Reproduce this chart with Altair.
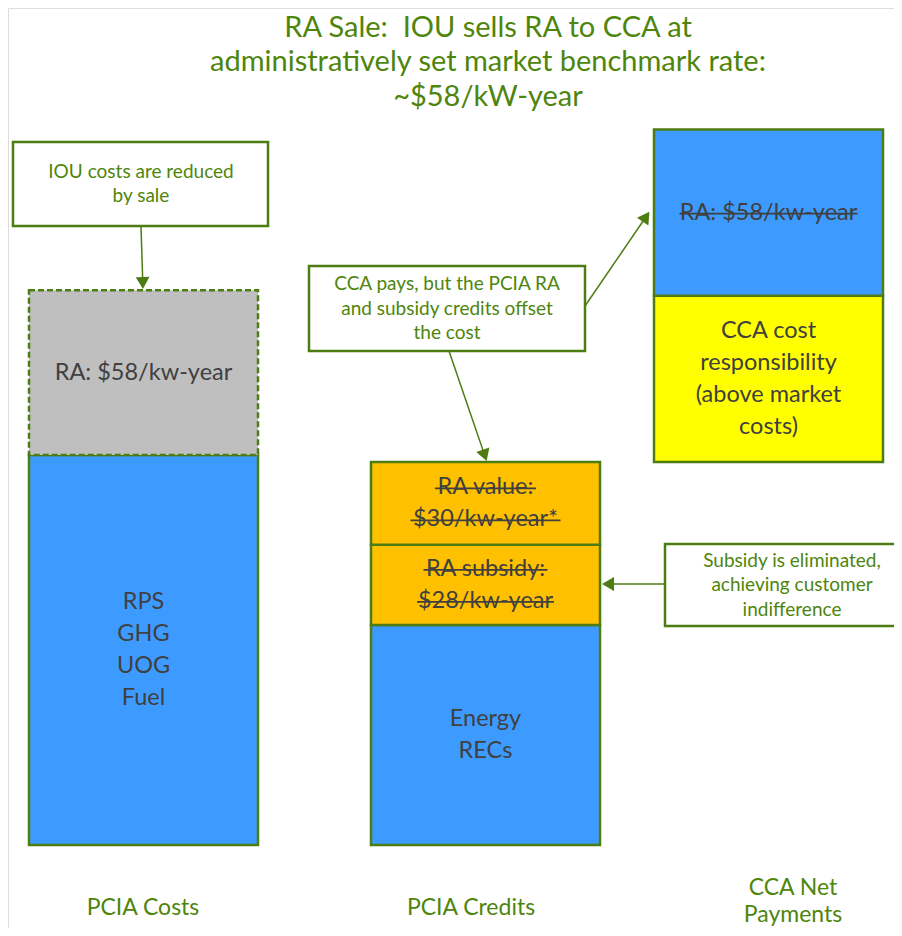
import math
import altair as alt
import pandas as pd

# ---------------- style ----------------
GREEN_TEXT = "#4E850C"
GREEN_LINE = "#4D7C12"
DARK_TEXT = "#404040"
FONT = "Lato"
BLUE = "#3D9BFF"
GRAY = "#BFBFBF"
ORANGE = "#FFC000"
YELLOW = "#FFFF00"

# ---------------- data ----------------
title_lines = ["RA Sale:\u00a0 IOU sells RA to CCA at",
               "administratively set market benchmark rate:",
               "~$58/kW-year"]
title_y = [28, 62, 97]
title_x = 488

columns = ["PCIA Costs", "PCIA Credits", "CCA Net Payments"]
column_left = [29, 371, 654]
column_right = [258, 600, 883]
column_labels = ["PCIA Costs", "PCIA Credits", "CCA Net\nPayments"]
column_label_x = [143, 471, 793]
column_label_y = [908, 908, 901]

# stacked segments ($/kW-year), bottom to top per column
seg_column = ["PCIA Costs", "PCIA Costs",
              "PCIA Credits", "PCIA Credits", "PCIA Credits",
              "CCA Net Payments", "CCA Net Payments"]
seg_label = ["RPS\nGHG\nUOG\nFuel", "RA: $58/kw-year",
             "Energy\nRECs", "RA subsidy:\n$28/kw-year", "RA value:\n$30/kw-year*",
             "CCA cost\nresponsibility\n(above market\ncosts)", "RA: $58/kw-year"]
seg_value = [137.3, 58.0, 77.5, 28.2, 29.2, 58.5, 58.5]
seg_fill = [BLUE, GRAY, BLUE, ORANGE, ORANGE, YELLOW, BLUE]
seg_dashed = [False, True, False, False, False, False, False]
seg_strike = [False, False, False, True, True, False, True]
# half widths of the struck-through text lines (px)
strike_halfwidth = {"RA subsidy:": 62, "$28/kw-year": 68.5, "RA value:": 50.5,
                    "$30/kw-year*": 75, "RA: $58/kw-year": 89}
# the CCA column floats on top of the credits column (waterfall)
column_base_from = {"PCIA Costs": None, "PCIA Credits": None, "CCA Net Payments": "PCIA Credits"}

BASE_PX = 845
PX_PER_UNIT = 2.84
BAR_LINE_H = 32
LABEL_LINE_H = 27
CALLOUT_LINE_H = 24.5

callout_text = ["IOU costs are reduced\nby sale",
                "CCA pays, but the PCIA RA\nand subsidy credits offset\nthe cost",
                "Subsidy is eliminated,\nachieving customer\nindifference"]
callout_x1 = [13, 309, 665]
callout_x2 = [268, 585, 920]
callout_y1 = [142, 266, 544]
callout_y2 = [226, 351, 626]
callout_text_x = [141, 447, 792]

arrow_x1 = [141, 449, 585, 665]
arrow_y1 = [226, 351, 306, 584]
arrow_x2 = [143, 487, 650, 601]
arrow_y2 = [290, 462, 211, 584]
HEAD = 14


def first_line_y(text, yc, lh):
    n = len(text.split("\n"))
    return yc - (n - 1) / 2 * lh


# ---------------- build tables ----------------
totals = {}
rows = []
for c, lab, v, f, d, s in zip(seg_column, seg_label, seg_value, seg_fill, seg_dashed, seg_strike):
    if c not in totals:
        src = column_base_from[c]
        totals[c] = totals[src] if src else 0.0
    start = totals[c]
    end = start + v
    totals[c] = end
    i = columns.index(c)
    rows.append(dict(col=c, label=lab, fill=f, dashed=d, strike=s,
                     x1=column_left[i], x2=column_right[i],
                     ytop=BASE_PX - end * PX_PER_UNIT,
                     ybot=BASE_PX - start * PX_PER_UNIT,
                     xc=(column_left[i] + column_right[i]) / 2))
segs = pd.DataFrame(rows)
segs["yc"] = (segs["ytop"] + segs["ybot"]) / 2
segs["ty"] = [first_line_y(t, y, BAR_LINE_H) for t, y in zip(segs["label"], segs["yc"])]

strikes = []
for _, r in segs[segs["strike"]].iterrows():
    lines = r["label"].split("\n")
    for k, ln in enumerate(lines):
        y = r["ty"] + k * BAR_LINE_H + 1
        hw = strike_halfwidth[ln]
        strikes.append(dict(x1=r["xc"] - hw, x2=r["xc"] + hw, y=y))
strikes = pd.DataFrame(strikes)

titles = pd.DataFrame(dict(t=title_lines, x=title_x, y=title_y))
labels = pd.DataFrame(dict(t=column_labels, x=column_label_x, y=column_label_y))
labels["ty"] = [first_line_y(t, y, LABEL_LINE_H) for t, y in zip(labels["t"], labels["y"])]
callouts = pd.DataFrame(dict(t=callout_text, x1=callout_x1, x2=callout_x2,
                             y1=callout_y1, y2=callout_y2, tx=callout_text_x))
callouts["yc"] = (callouts["y1"] + callouts["y2"]) / 2
callouts["ty"] = [first_line_y(t, y, CALLOUT_LINE_H) for t, y in zip(callouts["t"], callouts["yc"])]

arr = []
for ax1, ay1, ax2, ay2 in zip(arrow_x1, arrow_y1, arrow_x2, arrow_y2):
    dx, dy = ax2 - ax1, ay2 - ay1
    L = math.hypot(dx, dy)
    ux, uy = dx / L, dy / L
    hx, hy = ax2 - ux * HEAD / 2, ay2 - uy * HEAD / 2
    ang = math.degrees(math.atan2(dx, -dy)) % 360
    arr.append(dict(x1=ax1, y1=ay1, x2=hx, y2=hy, hx=hx, hy=hy, ang=ang))
arrows = pd.DataFrame(arr)

# ---------------- chart ----------------
XS = alt.Scale(domain=[8, 894], nice=False, zero=False)
YS = alt.Scale(domain=[8, 928], nice=False, zero=False, reverse=True)


def X(f):
    return alt.X(f, type="quantitative", scale=XS, axis=None)


def Y(f):
    return alt.Y(f, type="quantitative", scale=YS, axis=None)


solid = alt.Chart(segs[~segs["dashed"]]).mark_rect(stroke=GREEN_LINE, strokeWidth=2.5).encode(
    x=X("x1"), x2="x2", y=Y("ytop"), y2="ybot", fill=alt.Fill("fill:N", scale=None))
dashed = alt.Chart(segs[segs["dashed"]]).mark_rect(stroke=GREEN_LINE, strokeWidth=2.5,
                                                   strokeDash=[6, 3]).encode(
    x=X("x1"), x2="x2", y=Y("ytop"), y2="ybot", fill=alt.Fill("fill:N", scale=None))
seg_text = alt.Chart(segs).mark_text(font=FONT, fontSize=23.5, color=DARK_TEXT, lineBreak="\n",
                                     lineHeight=BAR_LINE_H, baseline="middle", align="center").encode(
    x=X("xc"), y=Y("ty"), text="label:N")
strike_rules = alt.Chart(strikes).mark_rule(color=DARK_TEXT, strokeWidth=1.6).encode(
    x=X("x1"), x2="x2", y=Y("y"))

title_text = alt.Chart(titles).mark_text(font=FONT, fontSize=29, color=GREEN_TEXT,
                                         baseline="middle", align="center").encode(
    x=X("x"), y=Y("y"), text="t:N")
col_text = alt.Chart(labels).mark_text(font=FONT, fontSize=23, color=GREEN_TEXT, lineBreak="\n",
                                       lineHeight=LABEL_LINE_H, baseline="middle", align="center").encode(
    x=X("x"), y=Y("ty"), text="t:N")

call_box = alt.Chart(callouts).mark_rect(fill="white", stroke=GREEN_LINE, strokeWidth=2.5).encode(
    x=X("x1"), x2="x2", y=Y("y1"), y2="y2")
call_text = alt.Chart(callouts).mark_text(font=FONT, fontSize=19, color=GREEN_TEXT, lineBreak="\n",
                                          lineHeight=CALLOUT_LINE_H, baseline="middle",
                                          align="center").encode(
    x=X("tx"), y=Y("ty"), text="t:N")

arrow_lines = alt.Chart(arrows).mark_rule(color=GREEN_LINE, strokeWidth=1.5).encode(
    x=X("x1"), x2="x2", y=Y("y1"), y2="y2")
arrow_heads = alt.Chart(arrows).mark_point(shape="triangle-up", filled=True, size=190,
                                           color=GREEN_LINE, opacity=1).encode(
    x=X("hx"), y=Y("hy"), angle=alt.Angle("ang:Q", scale=None))

chart = alt.layer(
    solid, dashed, strike_rules, seg_text, title_text, col_text,
    call_box, call_text, arrow_lines, arrow_heads
).properties(
    width=886, height=920, padding=0, autosize=alt.AutoSizeParams(type="none")
).configure_view(strokeWidth=0, stroke="transparent").configure(background="white")

chart.save("out.html", embed_options={"renderer": "svg", "actions": False})
